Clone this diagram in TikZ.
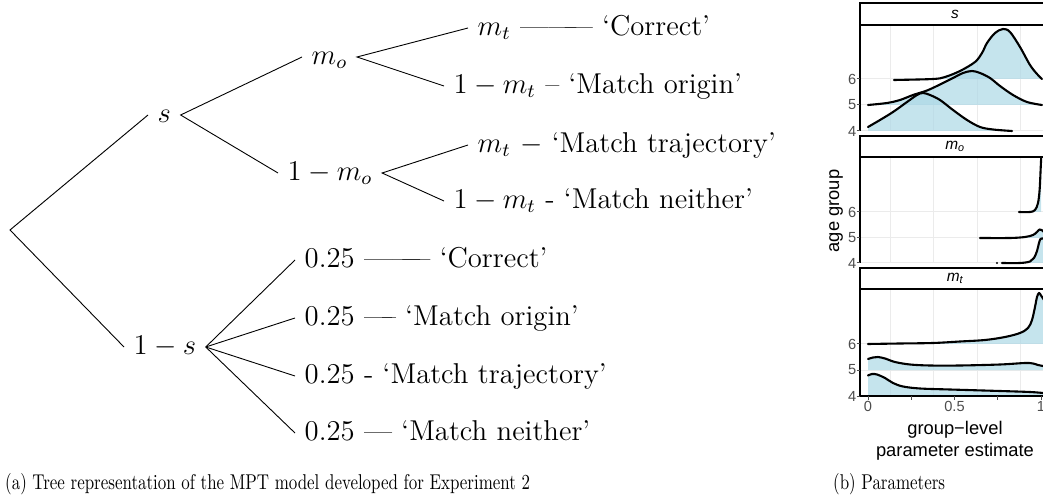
\documentclass[tikz,border=0pt]{standalone}
\usepackage{fontspec}
\newfontfamily\plotfont{Liberation Sans}
\newcommand\treefont[1]{\scalebox{2.4}{\large #1}}
\newcommand\capfont[1]{\scalebox{1.7}[2.15]{\normalsize #1}}
% one filled density ridge: #1 baseline y, #2 first x, #3 curve points
\newcommand\ridge[3]{%
  \fill[ridgefill] plot[smooth,tension=0.55] coordinates {#3} |- (#2,#1) -- cycle;
  \draw[ridgeline] plot[smooth,tension=0.55] coordinates {#3};}
\definecolor{ridgeblue}{RGB}{173,216,230}
\definecolor{gridc}{RGB}{235,235,235}
\definecolor{axtext}{RGB}{77,77,77}
\begin{document}
\begin{tikzpicture}[x=1bp,y=-1bp,
  lbl/.style={anchor=west,inner xsep=9.5bp,inner ysep=0pt,text height=20bp,text depth=5bp},
  branch/.style={line width=0.9bp},
  ridgefill/.style={fill=ridgeblue,fill opacity=0.7},
  ridgeline/.style={draw=black,line width=2.1bp,line join=round,line cap=round},
  gridline/.style={draw=gridc,line width=1bp},
  axisline/.style={draw=black,line width=1.1bp},
  tickmark/.style={draw=axtext,line width=1bp},
  stripbox/.style={draw=black,line width=1.2bp,fill=white},
  ticklabel/.style={font=\plotfont\fontsize{14.7}{16}\selectfont,text=axtext,inner sep=0pt},
  axtitle/.style={font=\plotfont\fontsize{18.4}{22}\selectfont,inner sep=0pt},
  striplabel/.style={font=\plotfont\itshape\fontsize{15.5}{17}\selectfont,inner sep=0pt}]
\useasboundingbox (0,0) rectangle (1043,497);

% ---------- MPT tree ----------
\coordinate (root) at (10,230);
\node[lbl] (s)   at (148,115) {\treefont{$s$}};
\node[lbl] (ns)  at (124,347) {\treefont{$1-s$}};
\node[lbl] (mo)  at (302,57)  {\treefont{$m_o$}};
\node[lbl] (nmo) at (278,173) {\treefont{$1-m_o$}};
\node[lbl] (c1)  at (468,28)  {\treefont{$m_t$ ---{}---\kern-0.4em--- `Correct'}};
\node[lbl] (c2)  at (444,86)  {\treefont{$1-m_t$ -- `Match origin'}};
\node[lbl] (c3)  at (468,145) {\treefont{$m_t$ $-$ `Match trajectory'}};
\node[lbl] (c4)  at (444,201) {\treefont{$1-m_t$ - `Match neither'}};
\node[lbl] (g1)  at (295,260) {\treefont{$0.25$ ---{}---\kern-0.62em--- `Correct'}};
\node[lbl] (g2)  at (295,318) {\treefont{$0.25$ ---\kern-0.35em-- `Match origin'}};
\node[lbl] (g3)  at (295,376) {\treefont{$0.25$ - `Match trajectory'}};
\node[lbl] (g4)  at (295,433) {\treefont{$0.25$ --- `Match neither'}};

\draw[branch] (s.west) -- (root) -- (ns.west);
\draw[branch] (mo.west) -- (s.east) -- (nmo.west);
\draw[branch] (c1.west) -- (mo.east) -- (c2.west);
\draw[branch] (c3.west) -- (nmo.east) -- (c4.west);
\foreach \g in {g1,g2,g3,g4} \draw[branch] (ns.east) -- (\g.west);

% ---------- captions ----------
\node[anchor=base west,inner sep=0pt] (capa) at (5,489)
  {\capfont{(a) Tree representation of the MPT model developed for Experiment 2}};
\node[anchor=base west,inner sep=0pt] (capb) at (833,489) {\capfont{(b) Parameters}};

% ---------- ridgeline panels ----------
\begin{scope}
\clip (0,0) rectangle (1043,497);
% grid
\foreach \t/\b in {25/131,157/263,289/396}
  \foreach \gx in {890,933,977,1020} \draw[gridline] (\gx,\t) -- (\gx,\b);
\foreach \gy in {79,105,131,212,238,263,344,370,396}
  \draw[gridline] (860,\gy) -- (1050,\gy);

% panel s
\ridge{79}{894}{(894,80) (933,79) (945,77) (960,71) (975,62) (982,53) (987,43) (995,33) (1003,29) (1010,32) (1020,47) (1030,65) (1037,74) (1042,79)}
\ridge{105}{868}{(868,105) (887,103) (900,100) (913,95) (927,90.5) (940,84.5) (953,78) (963,73) (972,71) (980,73) (990,78) (1000,86) (1013,95) (1027,102) (1042,105)}
\ridge{131}{868}{(868,127) (880,120) (893,112) (907,102) (917,95) (923,93) (930,95) (940,100) (953,110) (967,120) (980,127) (993,129.5) (1012,131)}

% panel m_o
\ridge{212}{1019}{(1019,212) (1030,212) (1035,210) (1038,203) (1039.6,190) (1040.6,170) (1041.2,157)}
\ridge{238}{980}{(980,238) (1010,238) (1025,237) (1033,235) (1037,232) (1039.5,229.5) (1041.5,230) (1044,232)}
\ridge{263}{1002}{(1002,263) (1020,263) (1030,261.5) (1034,258) (1037,251) (1039,243) (1040.5,239) (1043,238.5)}
\fill (997,263) circle (1.1bp);

% panel m_t
\ridge{344}{868}{(868,344) (900,343.5) (933,343) (960,341.5) (985,340) (1005,337) (1020,333) (1028,328) (1032,320) (1035,307) (1037,297) (1039,293) (1041,295.5) (1044,300)}
\ridge{370}{868}{(868,359) (873,357.5) (878,357) (885,358.5) (895,362) (910,364.5) (930,365.5) (960,365.5) (1000,364.5) (1025,363) (1033,363.5) (1038,365) (1043,366)}
\ridge{396}{868}{(868,375.5) (872,374) (877,374.5) (885,378) (893,383) (903,386.5) (920,388.5) (950,389.5) (1000,391) (1030,392) (1043,393)}

% axes
\foreach \t/\b in {25/131,157/263,289/396} \draw[axisline] (860,\t) -- (860,\b);
\draw[axisline] (860,396) -- (1050,396);
\foreach \gy in {79,105,131,212,238,263,344,370,396} \draw[tickmark] (856.5,\gy) -- (860,\gy);
\foreach \gx in {868,911.25,954.5,997.75,1041} \draw[tickmark] (\gx,396) -- (\gx,400);

% strips
\draw[stripbox] (860,3) rectangle (1050,25);
\draw[stripbox] (860,136) rectangle (1050,157);
\draw[stripbox] (860,268) rectangle (1050,289);
\end{scope}
\node[striplabel] (ls)  at (955,14)    {s};
\node[striplabel] (lmo) at (955,146.5) {m\textsubscript{o}};
\node[striplabel] (lmt) at (955,278.5) {m\textsubscript{t}};

% tick labels
\foreach \gy/\v [count=\i] in {79/6,105/5,131/4,212/6,238/5,263/4,344/6,370/5,396/4}
  \node[ticklabel,anchor=east] (yl\i) at (856.5,\gy) {\v};
\node[ticklabel,anchor=north] (x0)  at (868,401)   {0};
\node[ticklabel,anchor=north] (x05) at (954.5,401) {0.5};
\node[ticklabel,anchor=north] (x1)  at (1041,401)  {1};

% axis titles
\node[axtitle,rotate=90] (ytitle) at (836,211) {age group};
\node[axtitle,anchor=base] (xt1) at (955,434) {group\char"2212 level};
\node[axtitle,anchor=base] (xt2) at (955,456) {parameter estimate};
\end{tikzpicture}
\end{document}
